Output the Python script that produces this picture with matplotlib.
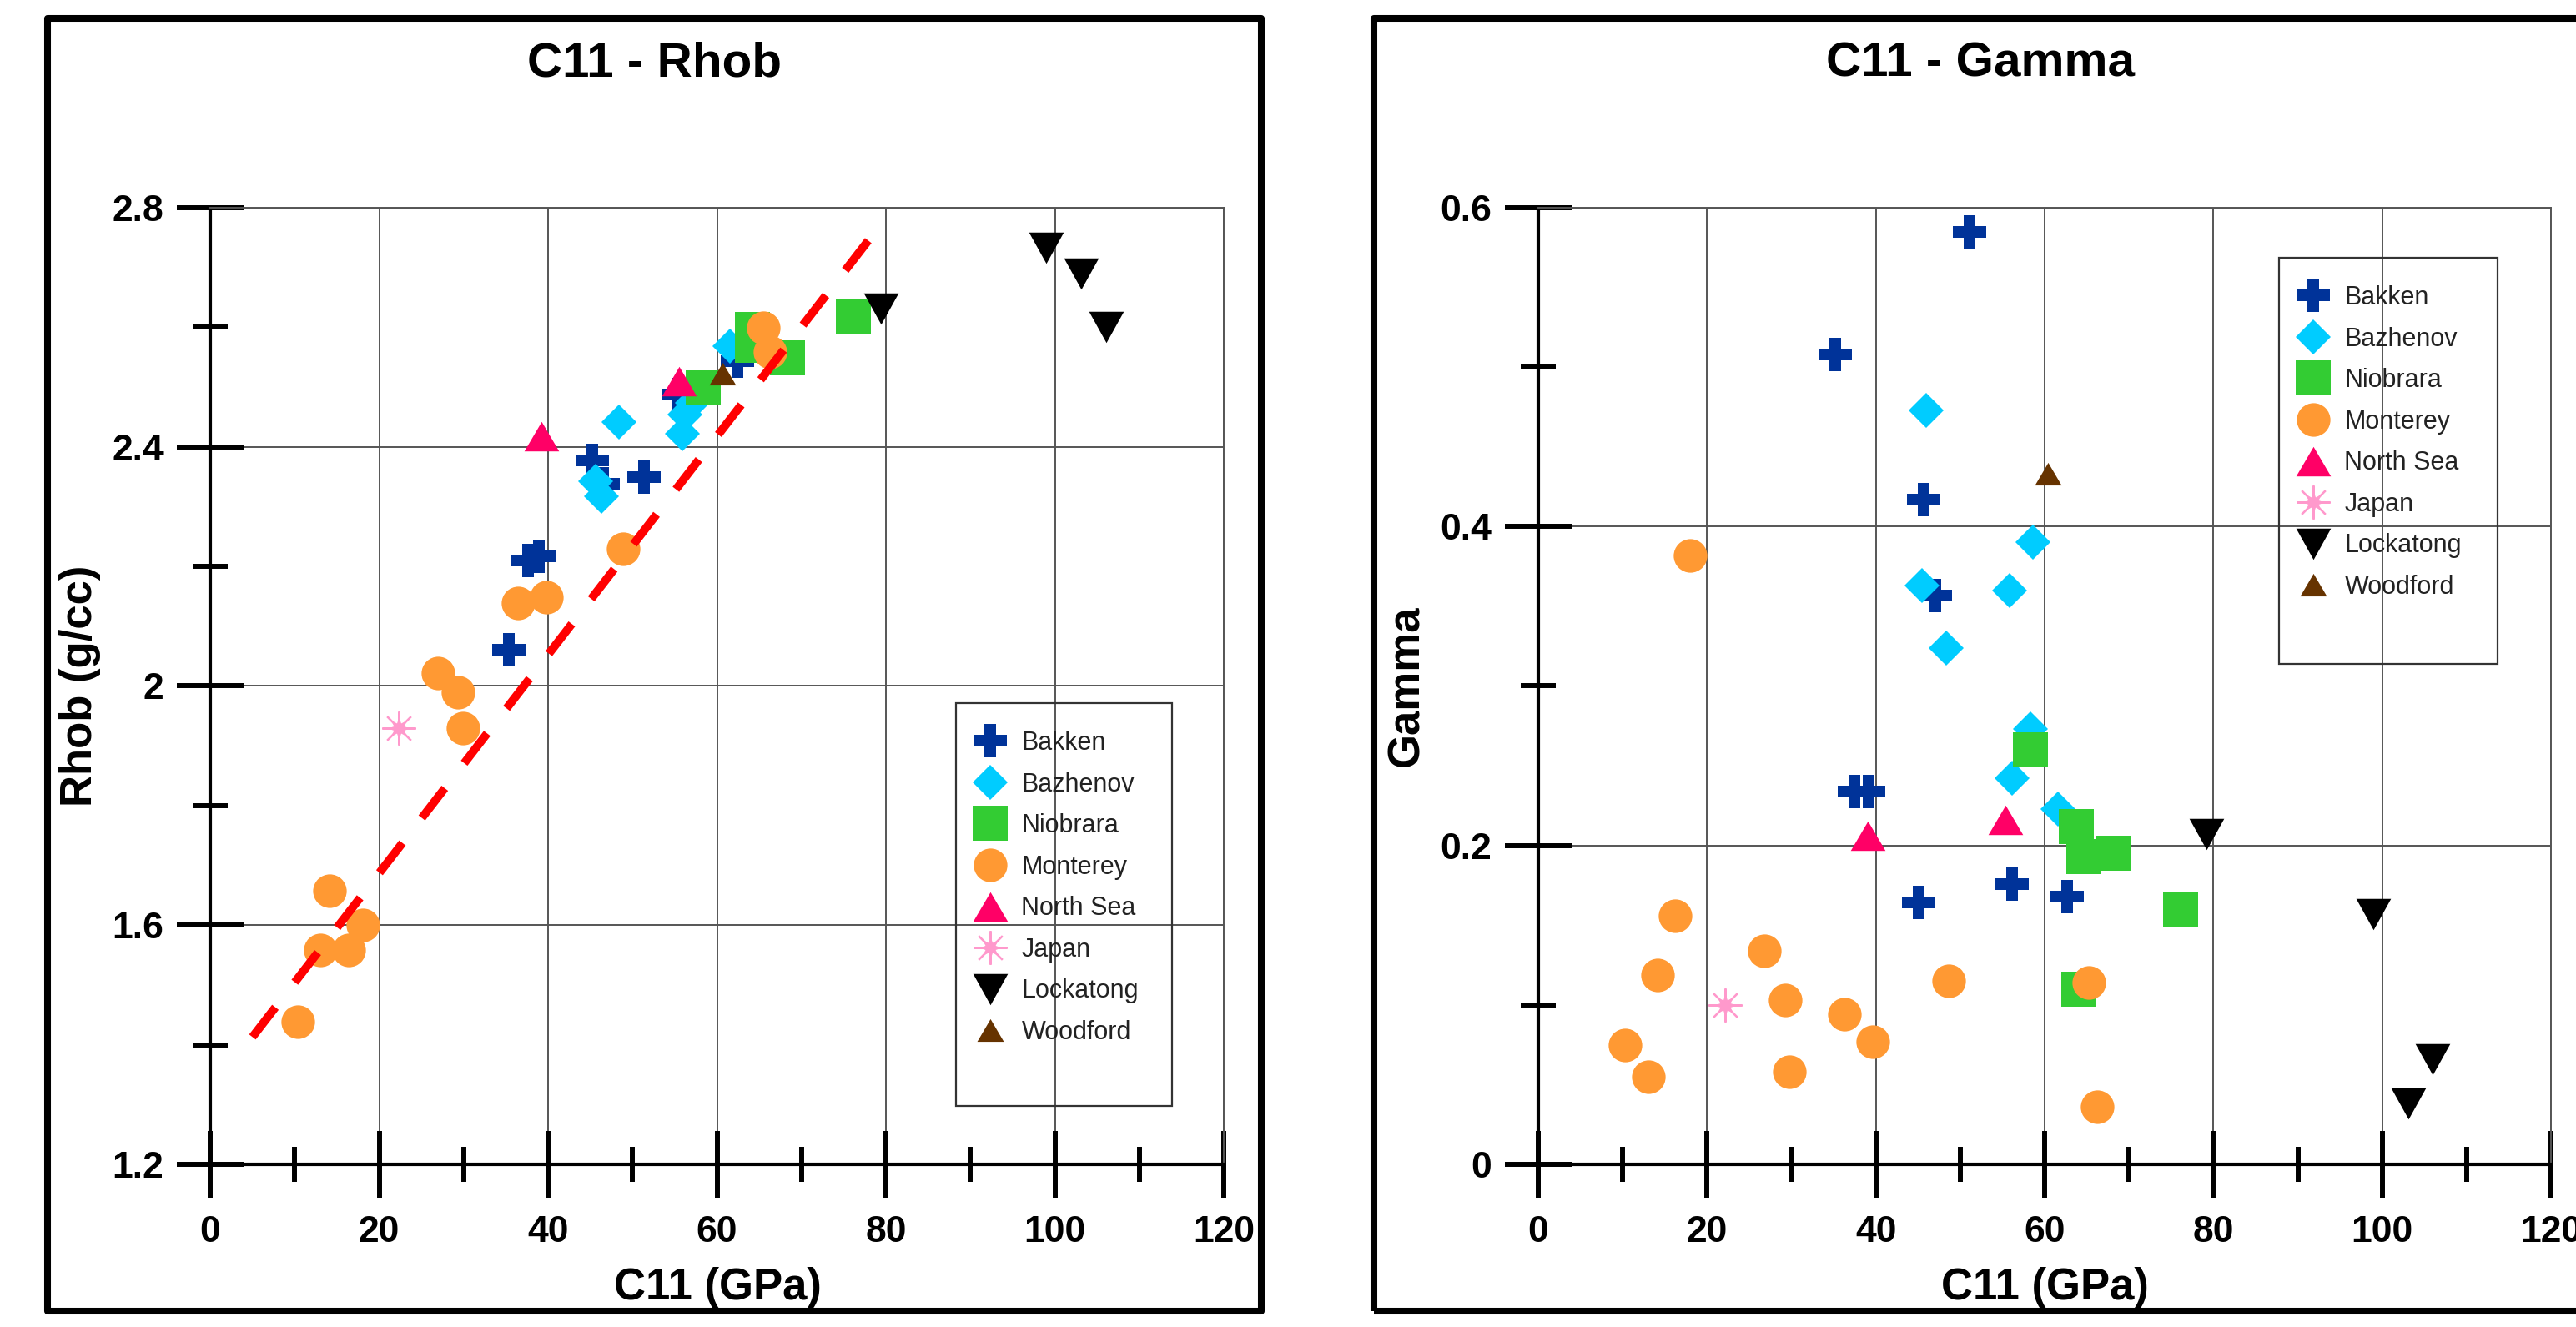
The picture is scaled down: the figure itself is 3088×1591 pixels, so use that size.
import matplotlib
matplotlib.use("Agg")
import matplotlib.pyplot as plt
from matplotlib.patches import Rectangle
from matplotlib.ticker import MultipleLocator, FuncFormatter

plt.rcParams["font.family"] = ["Liberation Sans", "DejaVu Sans"]

W, H = 3088, 1591

# ---- C11 - Rhob panel ----
bakken_c11_r = [35.4, 37.6, 38.95, 45.2, 46.5, 51.4, 55.4, 62.4]
bakken_rhob = [2.061, 2.210, 2.217, 2.378, 2.338, 2.349, 2.487, 2.543]
bazhenov_c11_r = [48.4, 45.6, 46.3, 55.9, 56.2, 57.1, 61.5]
bazhenov_rhob = [2.441, 2.342, 2.317, 2.422, 2.454, 2.474, 2.568]
niobrara_c11_r = [58.4, 64.2, 64.2, 68.3, 76.1]
niobrara_rhob = [2.499, 2.597, 2.570, 2.549, 2.619]
monterey_c11_r = [10.4, 13.0, 14.1, 16.4, 18.1, 27.0, 29.3, 29.9, 36.4, 39.8, 48.9, 65.5, 66.3]
monterey_rhob = [1.439, 1.559, 1.658, 1.559, 1.600, 2.021, 1.990, 1.930, 2.139, 2.148, 2.229, 2.599, 2.559]
northsea_c11_r = [39.2, 55.5]
northsea_rhob = [2.418, 2.510]
japan_c11_r = [22.3]
japan_rhob = [1.930]
lockatong_c11_r = [79.4, 99.0, 103.1, 106.1]
lockatong_rhob = [2.631, 2.733, 2.690, 2.601]
woodford_c11_r = [60.6]
woodford_rhob = [2.522]
fit_c11 = [5.0, 79.0]
fit_rhob = [1.413, 2.765]

# ---- C11 - Gamma panel ----
bakken_c11_g = [51.1, 35.2, 45.7, 47.1, 37.5, 39.1, 45.1, 56.1, 62.7]
bakken_gamma = [0.585, 0.508, 0.417, 0.357, 0.234, 0.234, 0.164, 0.176, 0.168]
bazhenov_c11_g = [46.0, 58.6, 45.5, 55.8, 48.3, 58.3, 56.1, 61.6]
bazhenov_gamma = [0.473, 0.390, 0.363, 0.360, 0.324, 0.273, 0.242, 0.223]
niobrara_c11_g = [58.3, 63.8, 64.6, 68.2, 76.1, 64.1]
niobrara_gamma = [0.260, 0.212, 0.193, 0.195, 0.160, 0.110]
monterey_c11_g = [18.0, 16.2, 14.1, 10.3, 13.0, 26.8, 29.3, 29.8, 36.3, 39.6, 48.6, 65.2, 66.2]
monterey_gamma = [0.382, 0.156, 0.119, 0.075, 0.055, 0.134, 0.103, 0.058, 0.094, 0.077, 0.115, 0.114, 0.036]
northsea_c11_g = [39.0, 55.4]
northsea_gamma = [0.206, 0.216]
japan_c11_g = [22.1]
japan_gamma = [0.100]
lockatong_c11_g = [79.2, 98.9, 103.1, 106.0]
lockatong_gamma = [0.207, 0.157, 0.038, 0.066]
woodford_c11_g = [60.4]
woodford_gamma = [0.433]

TRI_UP = [(-1, -0.85), (1, -0.85), (0, 0.85), (-1, -0.85)]
TRI_DOWN = [(-1, 0.9), (1, 0.9), (0, -0.9), (-1, 0.9)]

STYLES = {
    "Bakken": dict(marker="P", ms=29, color="#003399", mew=0),
    "Bazhenov": dict(marker="D", ms=21, color="#00CCFF", mew=0),
    "Niobrara": dict(marker="s", ms=30, color="#33CC33", mew=0),
    "Monterey": dict(marker="o", ms=29, color="#FF9933", mew=0),
    "North Sea": dict(marker=TRI_UP, ms=30, color="#FF0066", mew=0),
    "Japan": dict(marker=(8, 2, 0), ms=29, color="#FF99CC", mew=1.6),
    "Lockatong": dict(marker=TRI_DOWN, ms=30, color="black", mew=0),
    "Woodford": dict(marker=TRI_UP, ms=23, color="#663300", mew=0),
}


def px_rect(x0, y0, x1, y1):
    return [x0 / W, 1 - y1 / H, (x1 - x0) / W, (y1 - y0) / H]


def style_axes(ax, ylim, ymajor, yminor):
    ax.set_xlim(0, 120)
    ax.set_ylim(*ylim)
    ax.xaxis.set_major_locator(MultipleLocator(20))
    ax.xaxis.set_minor_locator(MultipleLocator(10))
    ax.yaxis.set_major_locator(MultipleLocator(ymajor))
    ax.yaxis.set_minor_locator(MultipleLocator(yminor))
    fmt = FuncFormatter(lambda v, p: f"{v:g}")
    ax.xaxis.set_major_formatter(fmt)
    ax.yaxis.set_major_formatter(fmt)
    ax.grid(True, which="major", color="#555555", lw=1.4)
    ax.set_axisbelow(True)
    for side in ("top", "right"):
        ax.spines[side].set_color("#555555")
        ax.spines[side].set_linewidth(1.4)
    for side in ("left", "bottom"):
        ax.spines[side].set_color("black")
        ax.spines[side].set_linewidth(3)
    ax.tick_params(which="major", direction="inout", length=57, width=4.3, labelsize=32)
    ax.tick_params(which="minor", direction="inout", length=30, width=4.3)
    ax.tick_params(axis="x", which="major", pad=15.5)
    ax.tick_params(axis="y", which="major", pad=11.5)
    for lab in ax.get_xticklabels() + ax.get_yticklabels():
        lab.set_fontweight("bold")


def draw_series(ax, data):
    handles = []
    for name, (xs, ys) in data.items():
        st = STYLES[name]
        line, = ax.plot(xs, ys, linestyle="none", marker=st["marker"], ms=st["ms"],
                        color=st["color"], mec=st["color"], mew=st["mew"], zorder=3)
        if name == "Japan":
            core, = ax.plot(xs, ys, linestyle="none", marker=(8, 1, 0), ms=19,
                            color=st["color"], mew=0, zorder=3)
            handles.append((line, core))
        else:
            handles.append(line)
    return handles, list(data.keys())


def add_legend(ax, handles, labels, box):
    x0, y0, x1, y1 = box
    fig.add_artist(Rectangle((x0 / W, 1 - y1 / H), (x1 - x0) / W, (y1 - y0) / H,
                             transform=fig.transFigure, fill=False, ec="#333333", lw=1.6))
    leg = ax.legend(handles, labels, loc="upper left",
                    bbox_to_anchor=((x0 + 18) / W, 1 - (y0 + 33) / H),
                    bbox_transform=fig.transFigure, frameon=False, borderpad=0,
                    borderaxespad=0, handlelength=1.5, handletextpad=0.48,
                    labelspacing=0.64, fontsize=22, numpoints=1)
    for t in leg.get_texts():
        t.set_color("#222222")


fig = plt.figure(figsize=(W / 100, H / 100), dpi=100)

# panel frames
for fx0, fx1 in [(57, 1512), (1647, 3110)]:
    fig.add_artist(Rectangle((fx0 / W, 1 - 1572 / H), (fx1 - fx0) / W, (1572 - 22) / H,
                             transform=fig.transFigure, fill=False, ec="black", lw=5.8,
                             joinstyle="round"))

# left panel
ax1 = fig.add_axes(px_rect(252, 249, 1467, 1396))
h1, l1 = draw_series(ax1, {
    "Bakken": (bakken_c11_r, bakken_rhob),
    "Bazhenov": (bazhenov_c11_r, bazhenov_rhob),
    "Niobrara": (niobrara_c11_r, niobrara_rhob),
    "Monterey": (monterey_c11_r, monterey_rhob),
    "North Sea": (northsea_c11_r, northsea_rhob),
    "Japan": (japan_c11_r, japan_rhob),
    "Lockatong": (lockatong_c11_r, lockatong_rhob),
    "Woodford": (woodford_c11_r, woodford_rhob),
})
ax1.plot(fit_c11, fit_rhob, color="red", lw=7.2, linestyle=(0, (4.5, 3.8)), zorder=4)
style_axes(ax1, (1.2, 2.8), 0.4, 0.2)
add_legend(ax1, h1, l1, (1146, 843, 1405, 1326))

# right panel
ax2 = fig.add_axes(px_rect(1844, 249, 3058, 1396))
h2, l2 = draw_series(ax2, {
    "Bakken": (bakken_c11_g, bakken_gamma),
    "Bazhenov": (bazhenov_c11_g, bazhenov_gamma),
    "Niobrara": (niobrara_c11_g, niobrara_gamma),
    "Monterey": (monterey_c11_g, monterey_gamma),
    "North Sea": (northsea_c11_g, northsea_gamma),
    "Japan": (japan_c11_g, japan_gamma),
    "Lockatong": (lockatong_c11_g, lockatong_gamma),
    "Woodford": (woodford_c11_g, woodford_gamma),
})
style_axes(ax2, (0, 0.6), 0.2, 0.1)
add_legend(ax2, h2, l2, (2732, 309, 2994, 796))

# titles and axis labels
for cx, title in [(784, "C11 - Rhob"), (2374, "C11 - Gamma")]:
    fig.text(cx / W, 1 - 91 / H, title, ha="center", va="baseline",
             fontsize=42, fontweight="bold")
for cx in (860, 2451):
    fig.text(cx / W, 1 - 1558 / H, "C11 (GPa)", ha="center", va="baseline",
             fontsize=38, fontweight="bold")
fig.text(96 / W, 1 - 822 / H, "Rhob (g/cc)", rotation=90, ha="center", va="center",
         fontsize=38, fontweight="bold")
fig.text(1686 / W, 1 - 822 / H, "Gamma", rotation=90, ha="center", va="center",
         fontsize=38, fontweight="bold")

fig.savefig("out.png", dpi=100)
